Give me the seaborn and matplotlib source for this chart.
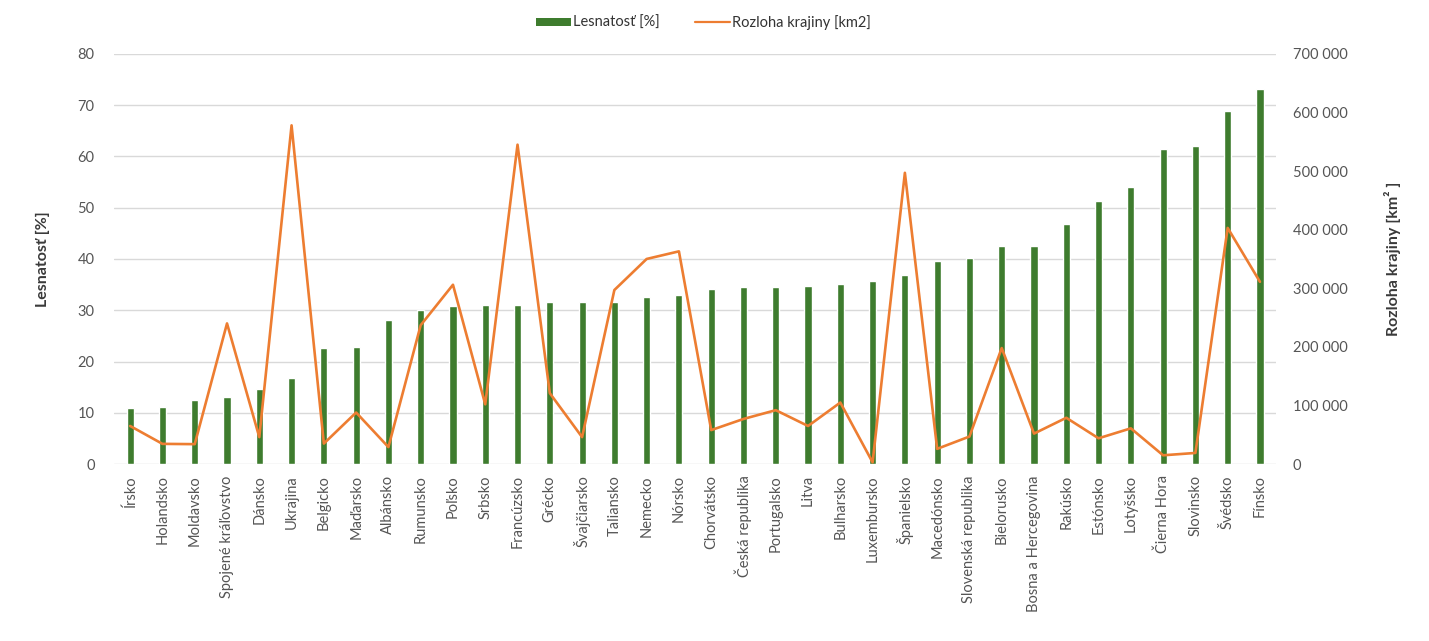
import numpy as np
import pandas as pd
import matplotlib
matplotlib.use("Agg")
import matplotlib.pyplot as plt
from matplotlib.ticker import FuncFormatter, MultipleLocator
from matplotlib.patches import Patch
from matplotlib.lines import Line2D
import seaborn as sns

krajiny = ["Írsko", "Holandsko", "Moldavsko", "Spojené kráľovstvo", "Dánsko", "Ukrajina",
           "Belgicko", "Maďarsko", "Albánsko", "Rumunsko", "Poľsko", "Srbsko", "Francúzsko",
           "Grécko", "Švajčiarsko", "Taliansko", "Nemecko", "Nórsko", "Chorvátsko",
           "Česká republika", "Portugalsko", "Litva", "Bulharsko", "Luxembursko", "Španielsko",
           "Macedónsko", "Slovenská republika", "Bielorusko", "Bosna a Hercegovina", "Rakúsko",
           "Estónsko", "Lotyšsko", "Čierna Hora", "Slovinsko", "Švédsko", "Fínsko"]

lesnatost = [11.0, 11.2, 12.5, 13.0, 14.6, 16.7, 22.6, 22.8, 28.0, 30.1, 30.8, 31.0, 31.0,
             31.6, 31.6, 31.6, 32.6, 33.0, 34.2, 34.5, 34.5, 34.7, 35.2, 35.8, 36.8,
             39.6, 40.2, 42.5, 42.5, 46.9, 51.3, 54.1, 61.5, 62.0, 68.8, 73.1]

rozloha = [65000, 34500, 34000, 240000, 46000, 578000, 35000, 88000, 29000, 237000, 306000,
           102000, 545000, 121000, 46000, 297000, 350000, 363000, 58000, 77000, 92000,
           65000, 105000, 3000, 497000, 26000, 47000, 198000, 52000, 79000, 44000, 61000,
           15000, 19000, 403000, 311000]

df = pd.DataFrame({"krajina": krajiny, "lesnatost": lesnatost, "rozloha": rozloha})

sns.set_style("white")
plt.rcParams["font.family"] = ["Lato", "DejaVu Sans"]

zelena = "#3E7C2E"
oranzova = "#ED7D31"
seda = "#555555"

fig = plt.figure(figsize=(14.29, 6.41), dpi=100)
ax = fig.add_axes([0.0798, 0.276, 0.8132, 0.640])

sns.barplot(data=df, x="krajina", y="lesnatost", color=zelena, saturation=1,
            width=0.22, ax=ax, zorder=2)
ax.set_ylim(0, 80)
ax.set_xlim(-0.5, len(krajiny) - 0.5)
ax.yaxis.set_major_locator(MultipleLocator(10))
ax.grid(axis="y", color="#D9D9D9", linewidth=1, zorder=0)
ax.set_axisbelow(True)
for s in ax.spines.values():
    s.set_visible(False)
ax.tick_params(length=0, colors=seda, labelsize=10.5)
ax.tick_params(axis="x", pad=8)
ax.tick_params(axis="y", pad=14)
plt.setp(ax.get_xticklabels(), rotation=90)
ax.set_xlabel("")
ax.set_ylabel("Lesnatosť [%]", fontsize=11.5, fontweight="bold", color="#3A3A3A", labelpad=20)

ax2 = ax.twinx()
sns.lineplot(x=np.arange(len(krajiny)), y=df["rozloha"], color=oranzova, linewidth=1.9,
             ax=ax2, zorder=3)
ax2.set_ylim(0, 700000)
ax2.yaxis.set_major_locator(MultipleLocator(100000))
ax2.yaxis.set_major_formatter(FuncFormatter(lambda v, p: f"{v:,.0f}".replace(",", " ")))
for s in ax2.spines.values():
    s.set_visible(False)
ax2.tick_params(length=0, colors=seda, labelsize=10.5, pad=12)
ax2.set_ylabel("Rozloha krajiny [km² ]", fontsize=11.5, fontweight="bold", color="#3A3A3A",
               labelpad=26)

handles = [Patch(facecolor=zelena, edgecolor="none"),
           Line2D([0], [0], color=oranzova, linewidth=1.6)]
fig.legend(handles, ["Lesnatosť [%]", "Rozloha krajiny [km2]"], loc="center",
           bbox_to_anchor=(0.492, 0.965), ncol=2, frameon=False, fontsize=10.5,
           handlelength=2.4, handleheight=0.45, handletextpad=0.15, columnspacing=2.4,
           labelcolor="#333333")

fig.savefig("out.png", dpi=100)
